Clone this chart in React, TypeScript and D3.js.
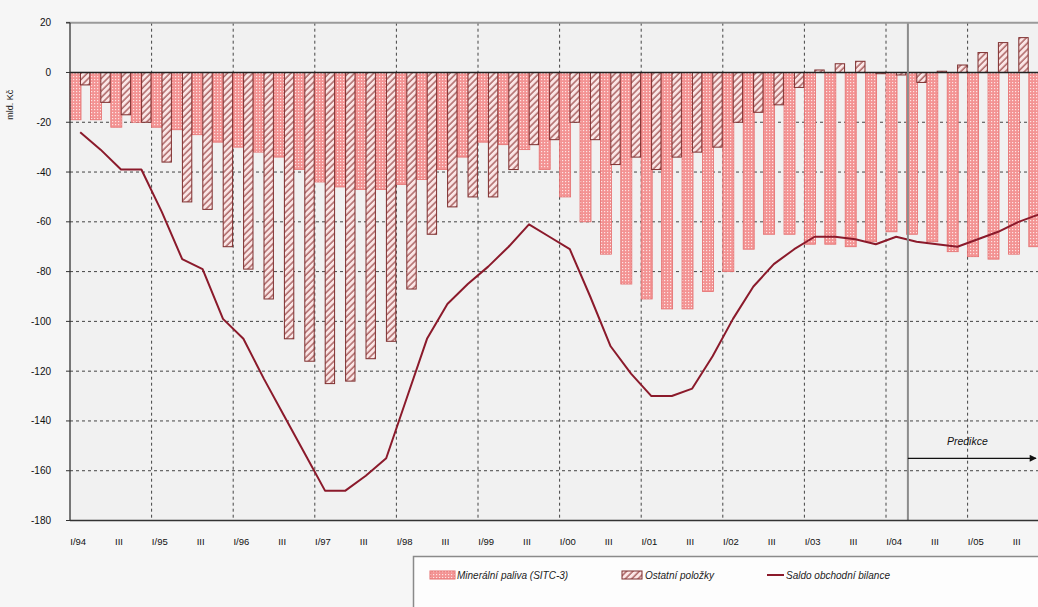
import React, { useEffect, useRef } from "react";
import * as d3 from "d3";

// quarters I/94 .. IV/05
const years = ["94", "95", "96", "97", "98", "99", "00", "01", "02", "03", "04", "05"];
const quarterNames = ["I", "II", "III", "IV"];

// Minerální paliva (SITC 3), mld. Kč
const mineralFuels = [
  -19, -19, -22, -20, -22, -23, -25, -28, -30, -32, -34, -39,
  -44, -46, -47, -47, -45, -43, -39, -34, -28, -29, -31, -39,
  -50, -60, -73, -85, -91, -95, -95, -88, -80, -71, -65, -65,
  -69, -69, -70, -68, -64, -65, -68, -72, -74, -75, -73, -70,
];

// Ostatní položky
const otherItems = [
  -5, -12, -17, -20, -36, -52, -55, -70, -79, -91, -107, -116,
  -125, -124, -115, -108, -87, -65, -54, -50, -50, -39, -29, -27,
  -20, -27, -37, -34, -39, -34, -32, -30, -20, -16, -13, -6,
  1, 3.5, 4.5, -0.5, -1, -4, 0.5, 3, 8, 12, 14, 15,
];

// Saldo obchodní bilance
const tradeBalance = [
  -24, -31, -39, -39, -56, -75, -79, -99, -107, -123, -138, -153,
  -168, -168, -162, -155, -131, -107, -93, -85, -78, -70, -61, -66,
  -71, -90, -110, -121, -130, -130, -127, -114, -99, -86, -77, -71,
  -66, -66, -67, -69, -66, -68, -69, -70, -67, -64, -60, -57,
];

const yTicks = [20, 0, -20, -40, -60, -80, -100, -120, -140, -160, -180];
const yGrid = [-20, -40, -60, -80, -100, -120, -140, -160];
const forecastStart = "II/04";
const forecastLevel = -155;

const categories = years.flatMap((yr) => quarterNames.map((q) => `${q}/${yr}`));
const tickLabel = (c: string) => {
  const [q, yr] = c.split("/");
  if (q === "I") return `I/${yr}`;
  if (q === "III") return "III";
  return null;
};

const W = 1038;
const H = 607;
const FONT = "'Liberation Sans', Arial, sans-serif";

const App: React.FC = () => {
  const svgRef = useRef<SVGSVGElement>(null);

  useEffect(() => {
    if (!svgRef.current) return;
    const svg = d3.select(svgRef.current);
    svg.selectAll("*").remove();

    const left = 70;
    const x = d3
      .scaleBand<string>()
      .domain(categories)
      .range([left, left + 20.4 * categories.length])
      .padding(0);
    const y = d3.scaleLinear().domain([-180, 20]).range([520.5, 22.7]);
    const bw = x.bandwidth();

    svg.append("rect").attr("width", W).attr("height", H).attr("fill", "#f6f6f6");

    // patterns
    const defs = svg.append("defs");
    const dots = defs
      .append("pattern")
      .attr("id", "dots")
      .attr("patternUnits", "userSpaceOnUse")
      .attr("width", 3)
      .attr("height", 3);
    dots.append("rect").attr("width", 3).attr("height", 3).attr("fill", "#f39393");
    dots.append("rect").attr("x", 1).attr("y", 1).attr("width", 1.2).attr("height", 1.2).attr("fill", "#fde4e4");

    const hatch = defs
      .append("pattern")
      .attr("id", "hatch")
      .attr("patternUnits", "userSpaceOnUse")
      .attr("width", 4.5)
      .attr("height", 4.5)
      .attr("patternTransform", "rotate(45)");
    hatch.append("rect").attr("width", 4.5).attr("height", 4.5).attr("fill", "#fbe6e6");
    hatch
      .append("line")
      .attr("x1", 1)
      .attr("x2", 1)
      .attr("y1", 0)
      .attr("y2", 4.5)
      .attr("stroke", "#a05252")
      .attr("stroke-width", 1.3);

    const marker = defs
      .append("marker")
      .attr("id", "arrow")
      .attr("viewBox", "0 0 10 10")
      .attr("refX", 9)
      .attr("refY", 5)
      .attr("markerWidth", 10)
      .attr("markerHeight", 7)
      .attr("markerUnits", "userSpaceOnUse")
      .attr("orient", "auto");
    marker.append("path").attr("d", "M0,0L10,5L0,10Z").attr("fill", "#111");

    // plot area
    svg
      .append("rect")
      .attr("x", left)
      .attr("y", y(20))
      .attr("width", W - left)
      .attr("height", y(-180) - y(20))
      .attr("fill", "#f1f1f1");

    // grid
    svg
      .append("g")
      .selectAll("line")
      .data(yGrid)
      .enter()
      .append("line")
      .attr("x1", left)
      .attr("x2", W)
      .attr("y1", (d) => y(d))
      .attr("y2", (d) => y(d))
      .attr("stroke", "#444")
      .attr("stroke-dasharray", "3,3");

    const yearStarts = categories.filter((c, i) => i > 0 && c.startsWith("I/"));
    svg
      .append("g")
      .selectAll("line")
      .data(yearStarts)
      .enter()
      .append("line")
      .attr("x1", (d) => x(d)!)
      .attr("x2", (d) => x(d)!)
      .attr("y1", y(20))
      .attr("y2", y(-180))
      .attr("stroke", "#444")
      .attr("stroke-dasharray", "3,3");

    // bars
    const barY = (v: number) => y(Math.max(0, v));
    const barH = (v: number) => Math.abs(y(v) - y(0));

    svg
      .append("g")
      .selectAll("rect")
      .data(mineralFuels)
      .enter()
      .append("rect")
      .attr("x", (_, i) => x(categories[i])!)
      .attr("y", (d) => barY(d))
      .attr("width", bw * 0.54)
      .attr("height", (d) => barH(d))
      .attr("fill", "url(#dots)")
      .attr("stroke", "#e56f6f")
      .attr("stroke-width", 0.8);

    svg
      .append("g")
      .selectAll("rect")
      .data(otherItems)
      .enter()
      .append("rect")
      .attr("x", (_, i) => x(categories[i])! + bw * 0.51)
      .attr("y", (d) => barY(d))
      .attr("width", bw * 0.46)
      .attr("height", (d) => barH(d))
      .attr("fill", "url(#hatch)")
      .attr("stroke", "#7e2e2e")
      .attr("stroke-width", 1);

    // zero line
    svg
      .append("line")
      .attr("x1", left)
      .attr("x2", W)
      .attr("y1", y(0))
      .attr("y2", y(0))
      .attr("stroke", "#222")
      .attr("stroke-width", 1.3);

    // balance line
    const line = d3
      .line<number>()
      .x((_, i) => x(categories[i])! + bw / 2)
      .y((d) => y(d));
    svg
      .append("path")
      .datum(tradeBalance)
      .attr("d", line)
      .attr("fill", "none")
      .attr("stroke", "#8b1a2b")
      .attr("stroke-width", 2)
      .attr("stroke-linejoin", "round");

    // forecast marker
    const fx = x(forecastStart)! + 1.5;
    svg
      .append("line")
      .attr("x1", fx)
      .attr("x2", fx)
      .attr("y1", y(20))
      .attr("y2", y(-180))
      .attr("stroke", "#8c8c8c")
      .attr("stroke-width", 2);
    svg
      .append("line")
      .attr("x1", fx)
      .attr("x2", W - 2)
      .attr("y1", y(forecastLevel))
      .attr("y2", y(forecastLevel))
      .attr("stroke", "#111")
      .attr("stroke-width", 1.3)
      .attr("marker-end", "url(#arrow)");
    svg
      .append("text")
      .attr("x", fx + 39)
      .attr("y", y(forecastLevel) - 13)
      .style("font-family", FONT)
      .style("font-size", "10.5px")
      .style("font-style", "italic")
      .attr("fill", "#111")
      .text("Predikce");

    // frame / axes
    svg
      .append("line")
      .attr("x1", left - 4)
      .attr("x2", W)
      .attr("y1", y(20))
      .attr("y2", y(20))
      .attr("stroke", "#9a9a9a")
      .attr("stroke-width", 2);
    svg
      .append("line")
      .attr("x1", left)
      .attr("x2", left)
      .attr("y1", y(20))
      .attr("y2", y(-180))
      .attr("stroke", "#333")
      .attr("stroke-width", 1.3);
    svg
      .append("line")
      .attr("x1", left)
      .attr("x2", W)
      .attr("y1", y(-180))
      .attr("y2", y(-180))
      .attr("stroke", "#333")
      .attr("stroke-width", 1.5);

    const yAxis = svg.append("g");
    yAxis
      .selectAll("line")
      .data(yTicks)
      .enter()
      .append("line")
      .attr("x1", left - 4)
      .attr("x2", left)
      .attr("y1", (d) => y(d))
      .attr("y2", (d) => y(d))
      .attr("stroke", "#333");
    yAxis
      .selectAll("text")
      .data(yTicks)
      .enter()
      .append("text")
      .attr("x", left - 19)
      .attr("y", (d) => y(d))
      .attr("dy", "0.35em")
      .attr("text-anchor", "end")
      .style("font-family", FONT)
      .style("font-size", "10px")
      .attr("fill", "#111")
      .text((d) => d);

    const labelled = categories.filter((c) => tickLabel(c) !== null);
    svg
      .append("g")
      .selectAll("text")
      .data(labelled)
      .enter()
      .append("text")
      .attr("x", (d) => x(d)! + bw / 2 - 2)
      .attr("y", y(-180) + 24)
      .attr("text-anchor", "middle")
      .style("font-family", FONT)
      .style("font-size", "9.5px")
      .attr("fill", "#111")
      .text((d) => tickLabel(d)!);

    // axis title
    svg
      .append("text")
      .attr("transform", `translate(13,${y(-13)}) rotate(-90)`)
      .attr("text-anchor", "middle")
      .style("font-family", FONT)
      .style("font-size", "9px")
      .attr("fill", "#222")
      .text("mld. Kč");

    // legend
    const lg = svg.append("g");
    lg.append("rect")
      .attr("x", 413.5)
      .attr("y", 556.5)
      .attr("width", 700)
      .attr("height", 80)
      .attr("fill", "#fdfdfd")
      .attr("stroke", "#8a8a8a")
      .attr("stroke-width", 1.5);
    const ly = 575;
    lg.append("rect")
      .attr("x", 430)
      .attr("y", ly - 4)
      .attr("width", 25)
      .attr("height", 8)
      .attr("fill", "url(#dots)")
      .attr("stroke", "#e56f6f");
    lg.append("rect")
      .attr("x", 622)
      .attr("y", ly - 4)
      .attr("width", 20)
      .attr("height", 8)
      .attr("fill", "url(#hatch)")
      .attr("stroke", "#7e2e2e");
    lg.append("line")
      .attr("x1", 767)
      .attr("x2", 784)
      .attr("y1", ly)
      .attr("y2", ly)
      .attr("stroke", "#8b1a2b")
      .attr("stroke-width", 2);
    const items = [
      { x: 457, t: "Minerální paliva (SITC-3)" },
      { x: 645, t: "Ostatní položky" },
      { x: 786, t: "Saldo obchodní bilance" },
    ];
    lg.selectAll("text")
      .data(items)
      .enter()
      .append("text")
      .attr("x", (d) => d.x)
      .attr("y", ly)
      .attr("dy", "0.35em")
      .style("font-family", FONT)
      .style("font-size", "10px")
      .style("font-style", "italic")
      .attr("fill", "#222")
      .text((d) => d.t);
  }, []);

  return (
    <svg
      ref={svgRef}
      width={W}
      height={H}
      style={{ position: "absolute", left: 0, top: 0, display: "block" }}
    />
  );
};

export default App;
